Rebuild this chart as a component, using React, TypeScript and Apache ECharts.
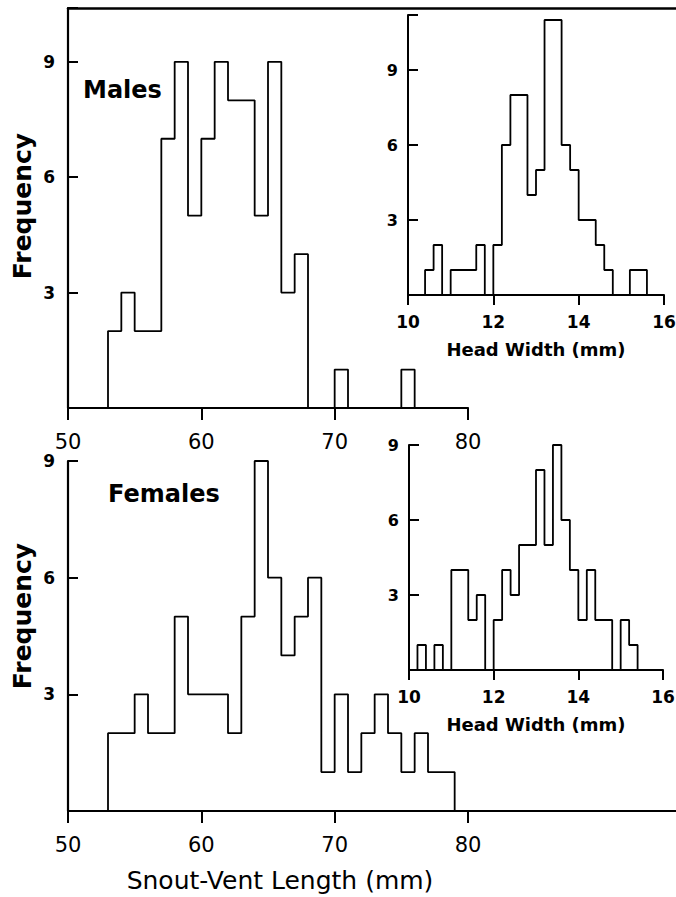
import React, { useEffect, useRef } from "react";
import * as echarts from "echarts";

// ---------- data ----------
const svlBinsMales = [53, 54, 55, 56, 57, 58, 59, 60, 61, 62, 63, 64, 65, 66, 67, 68, 69, 70, 71, 72, 73, 74, 75];
const svlCountsMales = [2, 3, 2, 2, 7, 9, 5, 7, 9, 8, 8, 5, 9, 3, 4, 0, 0, 1, 0, 0, 0, 0, 1];

const svlBinsFemales = [53, 54, 55, 56, 57, 58, 59, 60, 61, 62, 63, 64, 65, 66, 67, 68, 69, 70, 71, 72, 73, 74, 75, 76, 77, 78];
const svlCountsFemales = [2, 2, 3, 2, 2, 5, 3, 3, 3, 2, 5, 9, 6, 4, 5, 6, 1, 3, 1, 2, 3, 2, 1, 2, 1, 1];

const hwBinsMales = [10.4, 10.6, 10.8, 11.0, 11.2, 11.4, 11.6, 11.8, 12.0, 12.2, 12.4, 12.6, 12.8, 13.0, 13.2, 13.4, 13.6, 13.8, 14.0, 14.2, 14.4, 14.6, 14.8, 15.0, 15.2, 15.4];
const hwCountsMales = [1, 2, 0, 1, 1, 1, 2, 0, 2, 6, 8, 8, 4, 5, 11, 11, 6, 5, 3, 3, 2, 1, 0, 0, 1, 1];

const hwBinsFemales = [10.2, 10.4, 10.6, 10.8, 11.0, 11.2, 11.4, 11.6, 11.8, 12.0, 12.2, 12.4, 12.6, 12.8, 13.0, 13.2, 13.4, 13.6, 13.8, 14.0, 14.2, 14.4, 14.6, 14.8, 15.0, 15.2];
const hwCountsFemales = [1, 0, 1, 0, 4, 4, 2, 3, 0, 2, 4, 3, 5, 5, 8, 5, 9, 6, 4, 2, 4, 2, 2, 0, 2, 1];

const svlBinWidth = 1;
const hwBinWidth = 0.2;

// tick labels
const svlTicks = [50, 60, 70, 80];
const hwTicks = [10, 12, 14, 16];
const freqTicks = [3, 6, 9];

// ---------- helpers ----------
const FONT = '"DejaVu Sans", sans-serif';

function outline(bins: number[], counts: number[], width: number) {
  const r = (v: number) => Math.round(v * 100) / 100;
  const pts: number[][] = [[bins[0], 0]];
  bins.forEach((b, i) => {
    pts.push([b, counts[i]]);
    pts.push([r(b + width), counts[i]]);
  });
  pts.push([r(bins[bins.length - 1] + width), 0]);
  return pts;
}

function xAxis(gridIndex: number, ticks: number[], opts: any) {
  return {
    type: "value",
    gridIndex,
    min: ticks[0],
    max: ticks[ticks.length - 1],
    interval: ticks[1] - ticks[0],
    splitLine: { show: false },
    axisLine: { show: true, onZero: false, lineStyle: { color: "#000", width: opts.lineWidth } },
    axisTick: { show: true, inside: false, length: opts.tickLen, lineStyle: { color: "#000", width: 2 } },
    axisLabel: {
      show: true,
      margin: opts.margin,
      color: "#000",
      fontFamily: FONT,
      fontSize: opts.fontSize,
      fontWeight: opts.fontWeight,
      formatter: (v: number) => (ticks.includes(v) ? String(v) : ""),
    },
    name: opts.name,
    nameLocation: "middle",
    nameGap: opts.nameGap,
    nameTextStyle: {
      color: "#000",
      fontFamily: FONT,
      fontSize: opts.nameSize,
      fontWeight: "bold",
    },
  };
}

function yAxis(gridIndex: number, max: number, opts: any) {
  return {
    type: "value",
    gridIndex,
    min: 0,
    max,
    interval: freqTicks[1] - freqTicks[0],
    splitLine: { show: false },
    axisLine: { show: true, onZero: false, lineStyle: { color: "#000", width: opts.lineWidth } },
    axisTick: { show: true, inside: true, length: opts.tickLen, lineStyle: { color: "#000", width: 2 } },
    axisLabel: {
      show: true,
      margin: opts.margin,
      color: "#000",
      fontFamily: FONT,
      fontSize: opts.fontSize,
      fontWeight: "bold",
      formatter: (v: number) => (freqTicks.includes(v) ? String(v) : ""),
    },
  };
}

function stepSeries(i: number, data: number[][]) {
  return {
    type: "line",
    xAxisIndex: i,
    yAxisIndex: i,
    data,
    symbol: "none",
    silent: true,
    lineStyle: { color: "#000", width: 1.8 },
    clip: false,
  };
}

function frameAxis(gridIndex: number, position: string, width: number) {
  return {
    type: "value",
    gridIndex,
    min: 0,
    max: 1,
    position,
    axisLine: { show: true, onZero: false, lineStyle: { color: "#000", width } },
    axisTick: { show: false },
    axisLabel: { show: false },
    splitLine: { show: false },
  };
}

export default function App() {
  const ref = useRef<HTMLDivElement>(null);

  useEffect(() => {
    if (!ref.current) return;
    const chart = echarts.init(ref.current, null, { renderer: "svg" });

    const mainX = { lineWidth: 2.2, tickLen: 12, margin: 23, fontSize: 21, fontWeight: "normal", name: "", nameGap: 0, nameSize: 18 };
    const insetX = { lineWidth: 2, tickLen: 10, margin: 18, fontSize: 17, fontWeight: "bold", name: "Head Width (mm)", nameGap: 45, nameSize: 18 };
    const mainY = { lineWidth: 2.2, tickLen: 10, margin: 13, fontSize: 17 };
    const insetY = { lineWidth: 2, tickLen: 10, margin: 10, fontSize: 16 };

    const g = (left: number, top: number, width: number, height: number) => ({
      left, top, width, height, outerBoundsMode: "none", containLabel: false,
    });

    const option: any = {
      animation: false,
      backgroundColor: "#fff",
      grid: [
        g(68, 8, 400, 400),
        g(408, 15, 256, 280),
        g(68, 461, 400, 350),
        g(409, 445, 254, 225),
        g(68, 8, 608, 400),
        g(68, 461, 608, 350),
      ],
      xAxis: [
        xAxis(0, svlTicks, mainX),
        xAxis(1, hwTicks, insetX),
        xAxis(2, svlTicks, mainX),
        xAxis(3, hwTicks, insetX),
        frameAxis(4, "top", 2.5),
        frameAxis(5, "bottom", 2.2),
      ],
      yAxis: [
        yAxis(0, 10.4, mainY),
        yAxis(1, 11.2, insetY),
        yAxis(2, 9, mainY),
        yAxis(3, 9, insetY),
        { type: "value", gridIndex: 4, show: false, min: 0, max: 1 },
        { type: "value", gridIndex: 5, show: false, min: 0, max: 1 },
      ],
      series: [
        stepSeries(0, outline(svlBinsMales, svlCountsMales, svlBinWidth)),
        stepSeries(1, outline(hwBinsMales, hwCountsMales, hwBinWidth)),
        stepSeries(2, outline(svlBinsFemales, svlCountsFemales, svlBinWidth)),
        stepSeries(3, outline(hwBinsFemales, hwCountsFemales, hwBinWidth)),
      ],
      graphic: [
        {
          type: "text",
          x: 83,
          y: 90,
          style: { text: "Males", fill: "#000", font: `bold 24px ${FONT}`, align: "left", verticalAlign: "middle" },
        },
        {
          type: "text",
          x: 108,
          y: 494,
          style: { text: "Females", fill: "#000", font: `bold 24px ${FONT}`, align: "left", verticalAlign: "middle" },
        },
        {
          type: "text",
          x: 22,
          y: 206,
          rotation: Math.PI / 2,
          style: { text: "Frequency", fill: "#000", font: `bold 25px ${FONT}`, align: "center", verticalAlign: "middle" },
        },
        {
          type: "text",
          x: 22,
          y: 616,
          rotation: Math.PI / 2,
          style: { text: "Frequency", fill: "#000", font: `bold 25px ${FONT}`, align: "center", verticalAlign: "middle" },
        },
        {
          type: "text",
          x: 280,
          y: 880,
          style: { text: "Snout-Vent Length (mm)", fill: "#000", font: `25px ${FONT}`, align: "center", verticalAlign: "middle" },
        },
      ],
    };

    chart.setOption(option);
    return () => chart.dispose();
  }, []);

  return (
    <div
      ref={ref}
      style={{ position: "fixed", left: 0, top: 0, width: 676, height: 897, background: "#fff" }}
    />
  );
}
